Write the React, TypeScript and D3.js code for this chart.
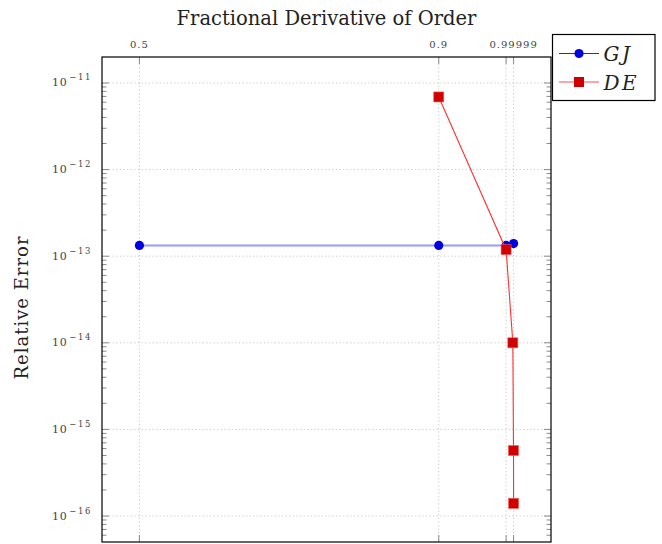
import * as d3 from 'd3';

// values
const xTicks = [0.5, 0.9, 0.99, 0.99999];
const xTickLabels = ['0.5', '0.9', '', '0.99999'];
const yExponents = [-11, -12, -13, -14, -15, -16];

const gjOrders = [0.5, 0.9, 0.99, 0.99999];
const gjErrors = [1.33e-13, 1.33e-13, 1.33e-13, 1.4e-13];

const deOrders = [0.9, 0.99, 0.999, 0.9999, 0.99999];
const deErrors = [6.9e-12, 1.19e-13, 1.0e-14, 5.7e-16, 1.4e-16];

const seriesNames = ['GJ', 'DE'];

const W = 662;
const H = 544;
const margin = { left: 102, top: 57, right: 111, bottom: 2 };
const serif = "'DejaVu Serif', 'Liberation Serif', serif";

const App = () => {
  const innerW = W - margin.left - margin.right;
  const innerH = H - margin.top - margin.bottom;

  // pgfplots style enlarged limits (10%)
  const x = d3.scaleLinear().domain([0.45, 1.05]).range([0, innerW]);
  const y = d3.scaleLog().domain([Math.pow(10, -16.3), Math.pow(10, -10.7)]).range([innerH, 0]);

  const minorTicks: number[] = [];
  for (let e = -17; e <= -11; e++) {
    for (let k = 2; k <= 9; k++) {
      const v = k * Math.pow(10, e);
      const py = y(v);
      if (py >= 0 && py <= innerH) minorTicks.push(v);
    }
  }

  const gj = gjOrders.map((o, i) => ({ x: o, y: gjErrors[i] }));
  const de = deOrders.map((o, i) => ({ x: o, y: deErrors[i] }));
  const line = d3.line<{ x: number; y: number }>().x(d => x(d.x)).y(d => y(d.y));

  const sq = 10;

  return (
    <svg width={W} height={H} style={{ position: 'absolute', left: 0, top: 0 }}>
      <rect width={W} height={H} fill="white" />
      <text x={margin.left + innerW / 2} y={25} textAnchor="middle" fontFamily={serif} fontSize={19.5} fill="#222">
        Fractional Derivative of Order
      </text>
      <text
        transform={`translate(28, ${margin.top + innerH / 2 + 8}) rotate(-90)`}
        textAnchor="middle"
        fontFamily={serif}
        fontSize={18}
        letterSpacing={1}
        fill="#222"
      >
        Relative Error
      </text>
      <g transform={`translate(${margin.left}, ${margin.top})`}>
        {/* grid */}
        {xTicks.map((t, i) => (
          <line key={'gx' + i} x1={x(t)} x2={x(t)} y1={0} y2={innerH} stroke="#c8c8c8" strokeDasharray="1.2,2.4" />
        ))}
        {yExponents.map(e => (
          <line key={'gy' + e} x1={0} x2={innerW} y1={y(Math.pow(10, e))} y2={y(Math.pow(10, e))} stroke="#c8c8c8" strokeDasharray="1.2,2.4" />
        ))}
        {/* ticks */}
        {xTicks.map((t, i) => (
          <g key={'tx' + i} stroke="#8a8a8a">
            <line x1={x(t)} x2={x(t)} y1={0} y2={7} />
            <line x1={x(t)} x2={x(t)} y1={innerH} y2={innerH - 7} />
          </g>
        ))}
        {yExponents.map(e => (
          <g key={'ty' + e} stroke="#8a8a8a">
            <line x1={0} x2={7} y1={y(Math.pow(10, e))} y2={y(Math.pow(10, e))} />
            <line x1={innerW} x2={innerW - 7} y1={y(Math.pow(10, e))} y2={y(Math.pow(10, e))} />
          </g>
        ))}
        {minorTicks.map((v, i) => (
          <g key={'my' + i} stroke="#8a8a8a">
            <line x1={0} x2={4.5} y1={y(v)} y2={y(v)} />
            <line x1={innerW} x2={innerW - 4.5} y1={y(v)} y2={y(v)} />
          </g>
        ))}
        {/* tick labels */}
        {xTicks.map((t, i) => (
          <text key={'lx' + i} x={x(t)} y={-9} textAnchor="middle" fontFamily={serif} fontSize={10} letterSpacing={1} fill="#444">
            {xTickLabels[i]}
          </text>
        ))}
        {yExponents.map(e => (
          <text key={'ly' + e} x={-10} y={y(Math.pow(10, e)) + 3.5} textAnchor="end" fontFamily={serif} fontSize={11} letterSpacing={0.6} fill="#444">
            10
            <tspan dx={2} dy={-6} fontSize={8.5} letterSpacing={1.6}>{'\u2212' + Math.abs(e)}</tspan>
          </text>
        ))}
        {/* series */}
        <path d={line(gj) || ''} fill="none" stroke="#9a9aff" strokeWidth={2} />
        {gj.map((d, i) => (
          <circle key={'gj' + i} cx={x(d.x)} cy={y(d.y)} r={4.6} fill="#0000e0" />
        ))}
        <path d={line(de) || ''} fill="none" stroke="#ff3030" strokeWidth={1.1} />
        {de.map((d, i) => (
          <rect key={'de' + i} x={x(d.x) - sq / 2} y={y(d.y) - sq / 2} width={sq} height={sq} fill="#d00000" stroke="#ff5050" strokeWidth={0.6} />
        ))}
        <rect x={0} y={0} width={innerW} height={innerH} fill="none" stroke="#000" strokeWidth={1.2} />
      </g>
      {/* legend */}
      <g transform="translate(552.5, 34.5)">
        <rect width={102.5} height={66} fill="white" stroke="#000" strokeWidth={1.2} />
        {seriesNames.map((name, i) => (
          <g key={name} transform={`translate(0, ${19 + i * 28.5})`}>
            <line x1={6.5} x2={46.5} y1={0} y2={0} stroke={i === 0 ? '#2020ff' : '#ff5050'} strokeWidth={1.2} />
            {i === 0 ? (
              <circle cx={26.5} cy={0} r={4.6} fill="#0000e0" />
            ) : (
              <rect x={26.5 - sq / 2} y={-sq / 2} width={sq} height={sq} fill="#d00000" />
            )}
            <text x={51} y={7.5} fontFamily={serif} fontStyle="italic" fontSize={20} fill="#222" letterSpacing={2.5}>
              {name}
            </text>
          </g>
        ))}
      </g>
    </svg>
  );
};

export default App;
